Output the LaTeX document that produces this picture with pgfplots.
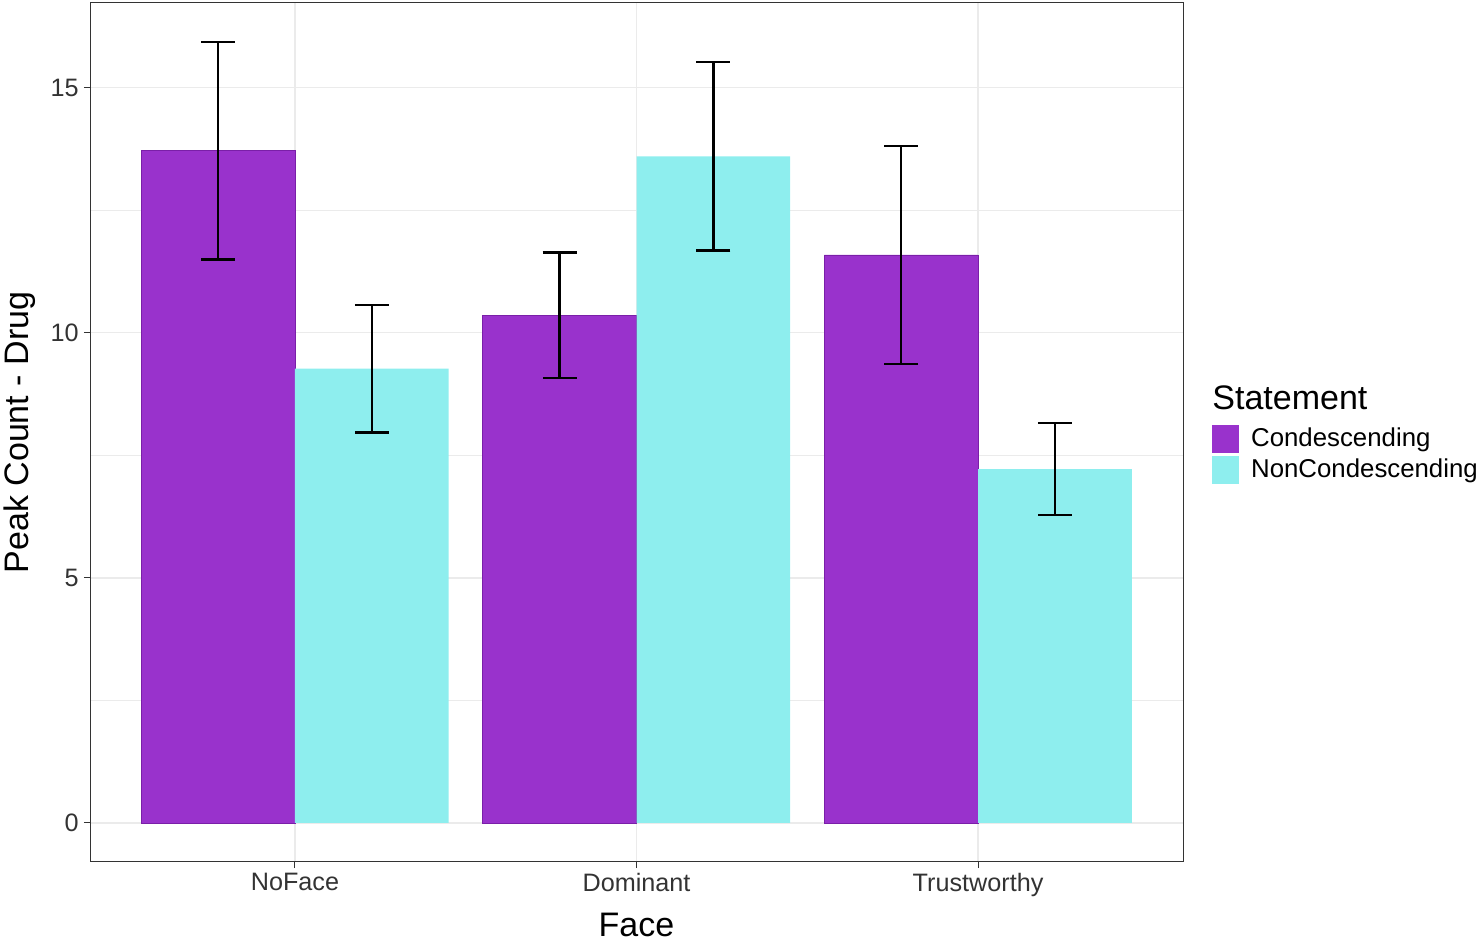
\documentclass[border=0pt]{standalone}
\usepackage{pgfplots}
\pgfplotsset{compat=1.18}
\usepackage{fontspec}
\setmainfont{Liberation Sans}
\definecolor{cond}{HTML}{9932CC}
\definecolor{conddark}{HTML}{7A1FA8}
\definecolor{noncond}{HTML}{8EEEEE}
\definecolor{gridc}{HTML}{EBEBEB}
\definecolor{tickc}{HTML}{333333}
\definecolor{panel}{HTML}{333333}
\begin{document}
\begin{tikzpicture}
\useasboundingbox (-45pt,-39.5pt) rectangle (693.5pt,431pt);
\begin{axis}[
  at={(0pt,0pt)}, anchor=south west,
  scale only axis, width=546.5pt, height=429.5pt,
  xmin=0.4, xmax=3.6, ymin=-0.796, ymax=16.73,
  xtick={1,2,3}, xticklabels={NoFace,Dominant,Trustworthy},
  ytick={0,5,10,15}, minor ytick={2.5,7.5,12.5},
  grid=both,
  major grid style={gridc, line width=0.6pt},
  minor grid style={gridc, line width=0.35pt},
  axis line style={panel, line width=0.5pt},
  tick pos=left, tick align=outside,
  major tick length=3pt, minor tick length=0pt,
  tick style={tickc, line width=0.5pt},
  ticklabel style={font=\fontsize{12.6}{14}\selectfont, text=tickc},
  xticklabel style={yshift=1pt},
  yticklabel style={xshift=0.8pt},
  /pgf/number format/assume math mode=true,
  ylabel={Peak Count - Drug},
  ylabel style={font=\fontsize{17}{20}\selectfont, at={(axis description cs:-0.064,0.5)}, anchor=center},
  xlabel={Face},
  xlabel style={font=\fontsize{17}{20}\selectfont, at={(axis description cs:0.5,-0.0733)}, anchor=center},
  ybar, bar width=0.45,
  legend style={at={(axis description cs:1.0265,0.509)}, anchor=north west, draw=none, fill=none,
    font=\fontsize{12.9}{15}\selectfont, inner sep=0pt, row sep=1.5pt,
    nodes={inner ysep=0pt, inner xsep=0pt, anchor=west},
    /tikz/every odd column/.style={column sep=6pt}},
  legend cell align=left,
  clip=false,
]
\addplot[forget plot, bar shift=-0.225, fill=cond, draw=conddark, line width=0.4pt,
  error bars/.cd, y dir=both, y explicit,
  error bar style={black, line width=1.2pt},
  error mark options={black, rotate=90, mark size=8.5pt, line width=1.2pt}]
  coordinates {(1,13.72) +- (0,2.22) (2,10.36) +- (0,1.28) (3,11.59) +- (0,2.22)};
\addplot[forget plot, bar shift=0.225, fill=noncond, draw=none,
  error bars/.cd, y dir=both, y explicit,
  error bar style={black, line width=1.2pt},
  error mark options={black, rotate=90, mark size=8.5pt, line width=1.2pt}]
  coordinates {(1,9.27) +- (0,1.30) (2,13.60) +- (0,1.92) (3,7.22) +- (0,0.94)};
\addlegendimage{legend image code/.code={\fill[cond] (0pt,-6.75pt) rectangle (13pt,6.75pt);}}
\addlegendentry{Condescending}
\addlegendimage{legend image code/.code={\fill[noncond] (0pt,-6.75pt) rectangle (13pt,6.75pt);}}
\addlegendentry{NonCondescending}
\end{axis}
\node[anchor=west, font=\fontsize{17}{20}\selectfont, inner sep=0pt] at (561pt,232pt) {Statement};
\end{tikzpicture}
\end{document}
